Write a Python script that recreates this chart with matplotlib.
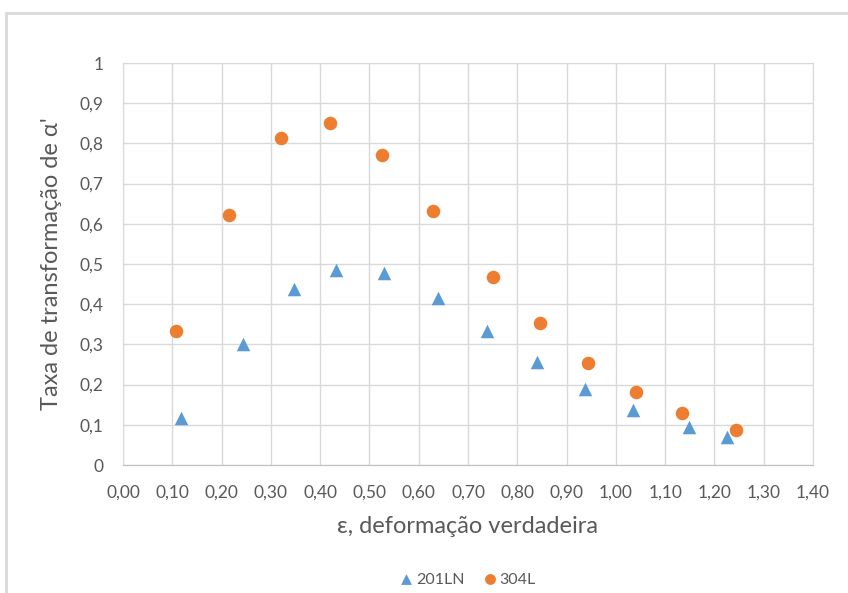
import numpy as np
from matplotlib import pyplot as plt
from matplotlib import ticker
from matplotlib.patches import Rectangle

# true strain vs transformation rate of alpha'
x_201ln = [0.117, 0.243, 0.347, 0.432, 0.529, 0.640, 0.739, 0.841, 0.938, 1.034, 1.148, 1.225]
y_201ln = [0.118, 0.302, 0.437, 0.486, 0.478, 0.416, 0.334, 0.256, 0.188, 0.137, 0.094, 0.070]
x_304l = [0.108, 0.215, 0.321, 0.420, 0.525, 0.629, 0.751, 0.846, 0.944, 1.041, 1.135, 1.244]
y_304l = [0.333, 0.623, 0.814, 0.851, 0.770, 0.632, 0.468, 0.352, 0.254, 0.182, 0.130, 0.087]

plt.rcParams['font.family'] = ['Lato', 'DejaVu Sans']
text_col = "#595959"

fig = plt.figure(figsize=(8.48, 5.93), dpi=100)
# chart frame (cropped at right and bottom)
fig.patches.append(Rectangle((6/848, -0.1), 1.2, 1 - 13/593 + 0.1, transform=fig.transFigure,
                             fill=False, edgecolor="#d9d9d9", linewidth=2))

ax = fig.add_axes([123/848, 1 - 465/593, (813 - 123)/848, (465 - 63)/593])
ax.scatter(x_201ln, y_201ln, marker="^", s=95, color="#5B9BD5", label="201LN", zorder=3, linewidths=0)
ax.scatter(x_304l, y_304l, marker="o", s=95, color="#ED7D31", label="304L", zorder=3, linewidths=0)

ax.set_xlim(0, 1.4)
ax.set_ylim(0, 1)
ax.xaxis.set_major_locator(ticker.MultipleLocator(0.1))
ax.yaxis.set_major_locator(ticker.MultipleLocator(0.1))
ax.xaxis.set_major_formatter(ticker.FuncFormatter(lambda v, p: f"{v:.2f}".replace(".", ",")))
ax.yaxis.set_major_formatter(ticker.FuncFormatter(lambda v, p: f"{v:.1f}".rstrip("0").rstrip(".").replace(".", ",") if round(v, 2) not in (0, 1) else str(int(round(v)))))
ax.grid(True, color="#d9d9d9", linewidth=1)
ax.set_axisbelow(True)
for s in ["left", "top", "right"]:
    ax.spines[s].set_color("#d9d9d9")
ax.spines["bottom"].set_color("#bfbfbf")
ax.tick_params(length=0, labelsize=12.5, colors=text_col)
ax.tick_params(axis="x", pad=14)
ax.tick_params(axis="y", pad=14)

ax.set_xlabel("ε, deformação verdadeira", fontsize=17, color=text_col, labelpad=11)
ax.set_ylabel("Taxa de transformação de α'", fontsize=17, color=text_col, labelpad=13)

ax.legend(loc="center", bbox_to_anchor=(0.5, -0.285), ncol=2, frameon=False, fontsize=11.5,
          handlelength=0.8, handletextpad=0.2, columnspacing=1.2, labelcolor=text_col, markerscale=0.8)

fig.savefig("out.png", dpi=100)
